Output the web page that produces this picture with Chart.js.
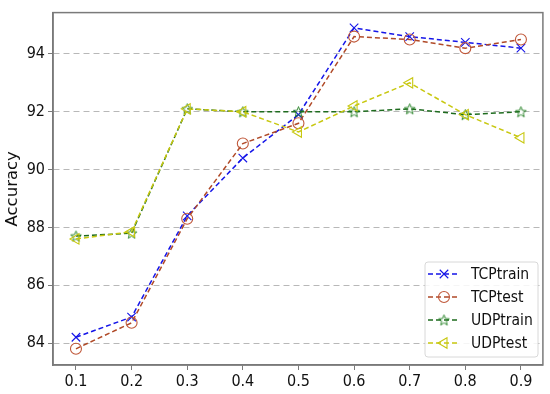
<!DOCTYPE html>
<html>
<head>
<meta charset="utf-8">
<script src="https://cdn.jsdelivr.net/npm/chart.js@4"></script>
<style>
  html, body { margin: 0; padding: 0; background: #fff; }
  #wrap { width: 550px; height: 394px; }
</style>
</head>
<body>
<div id="wrap"><canvas id="accChart" width="550" height="394"></canvas></div>
<script>
var xValues = [0.1, 0.2, 0.3, 0.4, 0.5, 0.6, 0.7, 0.8, 0.9];
var tcpTrain = [84.2, 84.9, 88.4, 90.4, 91.9, 94.9, 94.6, 94.4, 94.2];
var tcpTest = [83.8, 84.7, 88.3, 90.9, 91.6, 94.6, 94.5, 94.2, 94.5];
var udpTrain = [87.7, 87.8, 92.1, 92.0, 92.0, 92.0, 92.1, 91.9, 92.0];
var udpTest = [87.6, 87.85, 92.1, 92.0, 91.3, 92.2, 93.0, 91.9, 91.1];
var yTicks = [84, 86, 88, 90, 92, 94];

var fontName = "'DejaVu Sans Condensed', 'DejaVu Sans', sans-serif";
var titleFont = "'DejaVu Sans', sans-serif";

function makeStar(color) {
  var c = document.createElement("canvas");
  c.width = 13;
  c.height = 13;
  var g = c.getContext("2d");
  g.strokeStyle = color;
  g.lineWidth = 0.9;
  g.beginPath();
  for (var i = 0; i < 10; i++) {
    var r = i % 2 === 0 ? 5.6 : 2.4;
    var a = -Math.PI / 2 + (i * Math.PI) / 5;
    var px = 6.5 + r * Math.cos(a);
    var py = 7 + r * Math.sin(a);
    if (i === 0) g.moveTo(px, py);
    else g.lineTo(px, py);
  }
  g.closePath();
  g.stroke();
  return c;
}

function toPoints(vals) {
  var pts = [];
  for (var i = 0; i < vals.length; i++) {
    pts.push({ x: xValues[i], y: vals[i] });
  }
  return pts;
}

var starImg = makeStar("#1a7a1a");

var series = [
  { label: "TCPtrain", data: tcpTrain, color: "#1515e8", markColor: "#1515e8", style: "crossRot", radius: 6, rot: 0 },
  { label: "TCPtest", data: tcpTest, color: "#b04a28", markColor: "#c0583a", style: "circle", radius: 5.5, rot: 0 },
  { label: "UDPtrain", data: udpTrain, color: "#1e6b1e", markColor: "#1a7a1a", style: starImg, radius: 6, rot: 0 },
  { label: "UDPtest", data: udpTest, color: "#c8c810", markColor: "#c8c810", style: "triangle", radius: 6, rot: -90 }
];

var datasets = [];
for (var i = 0; i < series.length; i++) {
  var s = series[i];
  datasets.push({
    label: s.label,
    data: toPoints(s.data),
    borderColor: s.color,
    borderWidth: 1.5,
    borderDash: [5, 3],
    pointStyle: s.style,
    pointRadius: s.radius,
    pointRotation: s.rot,
    pointBorderColor: s.markColor,
    pointBackgroundColor: "rgba(0,0,0,0)",
    pointBorderWidth: 1.1,
    fill: false,
    tension: 0,
    order: series.length - i
  });
}

var frameAndLegend = {
  id: "frameAndLegend",
  afterDraw: function (chart) {
    var ctx = chart.ctx;
    var a = chart.chartArea;
    ctx.save();
    ctx.strokeStyle = "#7a7a7a";
    ctx.lineWidth = 1.5;
    ctx.strokeRect(a.left, a.top, a.right - a.left, a.bottom - a.top);

    // legend box
    var bx = 425, by = 262, bw = 113, bh = 95;
    ctx.fillStyle = "rgba(255,255,255,0.85)";
    ctx.strokeStyle = "#d8d8d8";
    ctx.lineWidth = 1;
    ctx.beginPath();
    ctx.roundRect(bx, by, bw, bh, 3);
    ctx.fill();
    ctx.stroke();

    ctx.font = "15.5px " + fontName;
    ctx.textBaseline = "middle";
    ctx.textAlign = "left";
    for (var i = 0; i < series.length; i++) {
      var s = series[i];
      var ry = 274 + i * 23;
      ctx.strokeStyle = s.color;
      ctx.lineWidth = 1.5;
      ctx.setLineDash([5, 3]);
      ctx.beginPath();
      ctx.moveTo(428, ry);
      ctx.lineTo(459, ry);
      ctx.stroke();
      ctx.setLineDash([]);
      ctx.lineWidth = 1.1;
      ctx.strokeStyle = s.markColor;
      ctx.fillStyle = "rgba(0,0,0,0)";
      Chart.helpers.drawPoint(ctx, {
        pointStyle: s.style,
        radius: s.radius,
        rotation: s.rot,
        borderWidth: 1.1
      }, 444, ry);
      ctx.fillStyle = "#111";
      ctx.fillText(s.label, 471, ry + 1);
    }
    ctx.restore();
  }
};

var ctx = document.getElementById("accChart").getContext("2d");
var chart = new Chart(ctx, {
  type: "line",
  data: { datasets: datasets },
  options: {
    responsive: false,
    animation: false,
    layout: { padding: { top: 7, right: 6, left: 0, bottom: 0 } },
    plugins: {
      legend: { display: false },
      tooltip: { enabled: false }
    },
    scales: {
      x: {
        type: "linear",
        min: 0.0587,
        max: 0.9395,
        afterBuildTicks: function (axis) {
          axis.ticks = xValues.map(function (v) { return { value: v }; });
        },
        afterFit: function (axis) { axis.height = 29; },
        ticks: {
          color: "#111",
          font: { family: fontName, size: 16 },
          padding: 2,
          maxRotation: 0,
          callback: function (v) { return v.toFixed(1); }
        },
        grid: {
          drawOnChartArea: false,
          drawTicks: true,
          tickLength: 5,
          tickColor: "#7a7a7a",
          tickWidth: 1
        },
        border: { color: "#7a7a7a", width: 1.5 }
      },
      y: {
        min: 83.24,
        max: 95.43,
        afterBuildTicks: function (axis) {
          axis.ticks = yTicks.map(function (v) { return { value: v }; });
        },
        afterFit: function (axis) { axis.width = 53; },
        title: {
          display: true,
          text: "Accuracy",
          color: "#111",
          font: { family: titleFont, size: 16.5 },
          padding: { top: 3, bottom: 0 }
        },
        ticks: {
          color: "#111",
          font: { family: fontName, size: 16 },
          padding: 3
        },
        grid: {
          color: "#b8b8b8",
          lineWidth: 1,
          drawTicks: true,
          tickLength: 5,
          tickColor: "#7a7a7a",
          tickBorderDash: [],
          tickWidth: 1
        },
        border: { color: "#7a7a7a", width: 1.5, dash: [6, 4] }
      }
    }
  },
  plugins: [frameAndLegend]
});
</script>
</body>
</html>
